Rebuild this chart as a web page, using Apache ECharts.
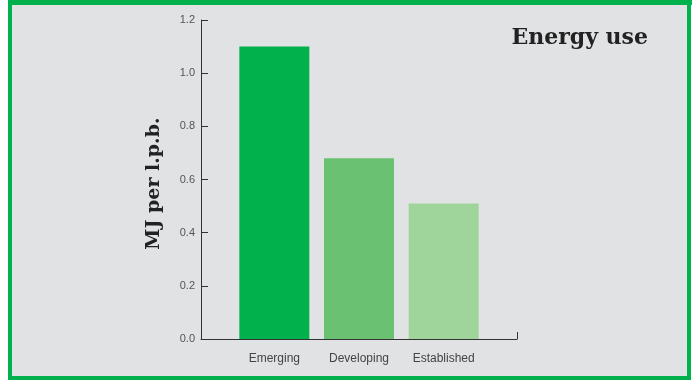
<!DOCTYPE html>
<html><head><meta charset="utf-8">
<script src="https://cdn.jsdelivr.net/npm/echarts@6/dist/echarts.min.js"></script>
<style>html,body{margin:0;padding:0;background:#fff}#c{width:692px;height:382px}</style>
</head><body><div id="c"></div>
<script>
const categories = ['Emerging', 'Developing', 'Established'];
const values = [1.1, 0.68, 0.51];
const barColors = ['#00b14c', '#6ac172', '#9fd49b'];
const yTicks = [0, 0.2, 0.4, 0.6, 0.8, 1.0, 1.2];

const chart = echarts.init(document.getElementById('c'));
chart.setOption({
  animation: false,
  graphic: [{
    type: 'rect', z: -10, silent: true,
    shape: { x: 10, y: 2.5, width: 679, height: 375.5 },
    style: { fill: '#e1e2e4', stroke: '#00b14c', lineWidth: 4 }
  }, {
    type: 'rect', z: -9, silent: true,
    shape: { x: 8, y: 0, width: 684, height: 5 },
    style: { fill: '#00b14c' }
  }],
  title: {
    text: 'Energy use', right: 39, top: 22,
    textStyle: { fontFamily: 'DejaVu Serif', fontWeight: 'bold', fontSize: 22, color: '#222' }
  },
  grid: [
    { left: 201, right: 175, top: 20, bottom: 43 },
    { left: 232, width: 254, top: 20, bottom: 43 }
  ],
  xAxis: [
    { type: 'value', gridIndex: 0, min: 0, max: 1, interval: 1,
      axisLine: { show: true, lineStyle: { color: '#333', width: 1 } },
      axisTick: { show: true, inside: true, length: 7, lineStyle: { color: '#333' } },
      axisLabel: { show: false }, splitLine: { show: false } },
    { type: 'category', gridIndex: 1, data: categories, boundaryGap: true,
      axisLine: { show: false }, axisTick: { show: false },
      axisLabel: { margin: 14, fontFamily: 'Liberation Sans', fontSize: 12, color: '#444' } }
  ],
  yAxis: [
    { type: 'value', gridIndex: 0, min: 0, max: 1.2, interval: 0.2,
      name: 'MJ per l.p.b.', nameLocation: 'middle', nameGap: 37, nameRotate: 90,
      nameTextStyle: { fontFamily: 'DejaVu Serif', fontWeight: 'bold', fontSize: 19, color: '#222',
        padding: [0, 8, 0, 0] },
      axisLine: { show: true, lineStyle: { color: '#333', width: 1 } },
      axisTick: { show: true, inside: true, length: 7, lineStyle: { color: '#333' } },
      axisLabel: { margin: 6, fontFamily: 'Liberation Sans', fontSize: 11, color: '#555',
        formatter: v => v.toFixed(1) },
      splitLine: { show: false } },
    { type: 'value', gridIndex: 1, min: 0, max: 1.2, interval: 0.2, show: false }
  ],
  series: [{
    type: 'bar', xAxisIndex: 1, yAxisIndex: 1, barWidth: 70,
    data: values.map((v, i) => ({ value: v, itemStyle: { color: barColors[i] } }))
  }]
});
</script></body></html>
